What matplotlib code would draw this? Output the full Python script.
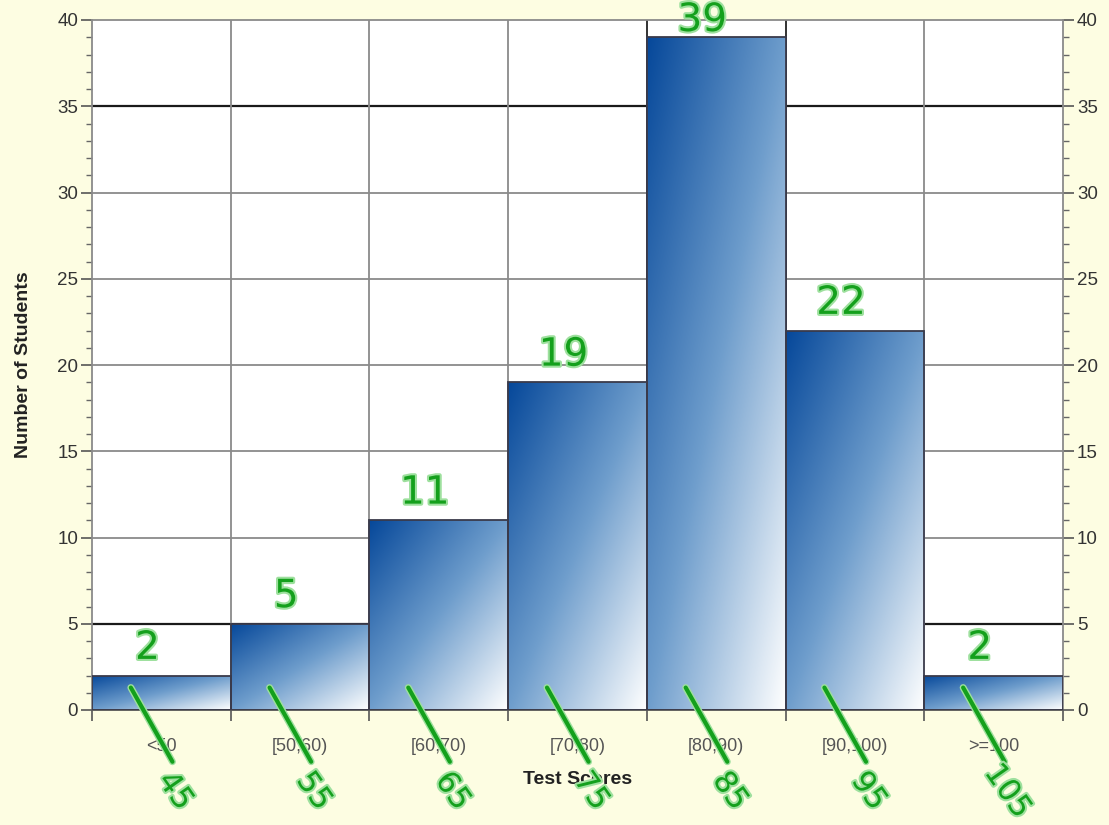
import numpy as np
import matplotlib
matplotlib.use("Agg")
import matplotlib.pyplot as plt
from matplotlib.colors import LinearSegmentedColormap
import matplotlib.patheffects as pe

# ---- data ----
bin_edges = [40, 50, 60, 70, 80, 90, 100, 110]
categories = ["<50", "[50,60)", "[60,70)", "[70,80)", "[80,90)", "[90,100)", ">=100"]
counts = [2, 5, 11, 19, 39, 22, 2]
midpoints = [45, 55, 65, 75, 85, 95, 105]

plt.rcParams['font.family'] = ['Liberation Sans', 'DejaVu Sans']

BG = '#fdfde2'
fig = plt.figure(figsize=(11.09, 8.25), dpi=100, facecolor=BG)
ax = fig.add_axes([92/1109, 1-710/825, (1063-92)/1109, (710-20)/825])
ax.set_facecolor('white')

edges = np.array(bin_edges, dtype=float)
centers = (edges[:-1] + edges[1:]) / 2
widths = np.diff(edges)

ax.set_xlim(edges[0], edges[-1])
ax.set_ylim(0, 40)

# grid
for y in range(5, 40, 5):
    if y in (5, 35):
        ax.axhline(y, color='#1a1a1a', lw=1.6, zorder=1)
    else:
        ax.axhline(y, color='#8a8a8a', lw=1.3, zorder=1)
for x in edges[1:-1]:
    c = '#222222' if x in (80, 90) else '#8a8a8a'
    ax.axvline(x, color=c, lw=1.3, zorder=1)

# gradient bars
cmap = LinearSegmentedColormap.from_list('g', ['#06489a', '#6e9dcc', '#ffffff'])
n = 200
u = np.linspace(0, 1, n)[None, :]
v = np.linspace(0, 1, n)[:, None]   # 0 top, 1 bottom (origin upper)
grad = 0.5 * u + 0.5 * v
bars = ax.bar(centers, counts, width=widths, facecolor='none',
              edgecolor='#3a3a4a', lw=1.3, zorder=3)
for b in bars:
    x0, y0 = b.get_x(), b.get_y()
    w, h = b.get_width(), b.get_height()
    im = ax.imshow(grad, cmap=cmap, extent=(x0, x0 + w, y0, y0 + h),
                   origin='upper', aspect='auto', zorder=2, interpolation='bilinear')
    im.set_clip_path(b)

ax.set_xlim(edges[0], edges[-1])
ax.set_ylim(0, 40)

# ticks
ax.set_xticks(edges)
ax.set_xticklabels([])
ax.set_xticks(centers, minor=True)
ax.set_xticklabels(categories, minor=True)
ax.tick_params(axis='x', which='major', length=8, width=1.2, color='#555555', direction='out')
ax.tick_params(axis='x', which='minor', length=0, pad=20, labelsize=13, labelcolor='#555555')

ax.set_yticks(range(0, 41, 5))
ax.set_yticks(range(0, 41, 1), minor=True)
ax.tick_params(axis='y', which='major', length=8, width=1.2, color='#555555',
               labelsize=13.5, labelcolor='#333333', left=True, right=True,
               labelleft=True, labelright=True, pad=2)
ax.tick_params(axis='y', which='minor', length=4, width=1.0, color='#666666',
               left=True, right=True)

for s in ax.spines.values():
    s.set_color('#8a8a8a')
    s.set_linewidth(1.3)
ax.spines['bottom'].set_color('#555555')

ax.set_ylabel('Number of Students', fontsize=14, fontweight='bold', color='#222222', labelpad=18)
ax.set_xlabel('Test Scores', fontsize=14, fontweight='bold', color='#222222', labelpad=12)

# handwritten-style green annotations
GREEN = '#14a01c'
glow = [pe.withStroke(linewidth=3, foreground='#9ee09e')]
for c, val in zip(centers, counts):
    ax.text(c - 1.0, min(val + 1.6, 40.0), str(val), fontsize=28, color=GREEN,
            ha='center', va='center', zorder=6, clip_on=False, path_effects=glow,
            family=['DejaVu Sans'])
for m in midpoints:
    ax.plot([m - 2.2, m + 0.8], [1.3, -3.0], color=GREEN, lw=3, zorder=6,
            clip_on=False, solid_capstyle='round',
            path_effects=[pe.withStroke(linewidth=5, foreground='#9ee09e')])
    ax.text(m + 1.0, -4.7, str(m), fontsize=22, color=GREEN, rotation=-55,
            ha='center', va='center', zorder=6, clip_on=False, path_effects=glow,
            family=['DejaVu Sans'])

fig.savefig('out.png', dpi=100, facecolor=BG)
